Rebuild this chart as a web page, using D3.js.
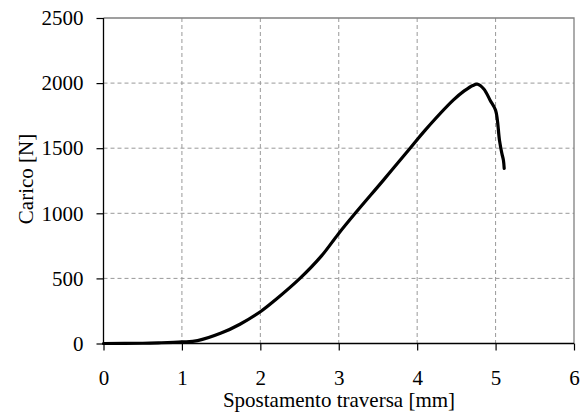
<!DOCTYPE html>
<html>
<head>
<meta charset="utf-8">
<script src="https://cdn.jsdelivr.net/npm/d3@7"></script>
<style>
  body { margin: 0; background: #fff; }
  svg text { font-family: "Liberation Serif", "Times New Roman", serif; fill: #000; }
</style>
</head>
<body>
<svg id="chart" width="584" height="414"></svg>
<script>
// spostamento traversa [mm] vs carico [N]
const displacement = [0, 0.5, 0.7, 1.0, 1.2, 1.5, 1.74, 2.0, 2.19, 2.505, 2.78, 2.99, 3.21, 3.57, 3.91, 4.10, 4.46, 4.6, 4.71, 4.77, 4.85, 4.93, 5.0, 5.05, 5.08, 5.10, 5.11];
const load = [0, 2, 5, 12, 22, 80, 148, 244, 334, 500, 673, 838, 1000, 1255, 1500, 1637, 1869, 1940, 1982, 1991, 1955, 1869, 1792, 1560, 1460, 1408, 1344];
const xTicks = [0, 1, 2, 3, 4, 5, 6];
const yTicks = [0, 500, 1000, 1500, 2000, 2500];

const svg = d3.select("#chart");
const mLeft = 103.5, mRight = 574, mTop = 18, mBottom = 343.5;

const x = d3.scaleLinear().domain([0, 6]).range([mLeft, mRight]);
const y = d3.scaleLinear().domain([0, 2500]).range([mBottom, mTop]);

// grid
svg.append("g").selectAll("line")
    .data(xTicks.slice(1, -1))
    .join("line")
    .attr("x1", d => x(d)).attr("x2", d => x(d))
    .attr("y1", mTop).attr("y2", mBottom)
    .attr("stroke", "#999").attr("stroke-dasharray", "4,3");
svg.append("g").selectAll("line")
    .data(yTicks.slice(1, -1))
    .join("line")
    .attr("x1", mLeft).attr("x2", mRight)
    .attr("y1", d => y(d)).attr("y2", d => y(d))
    .attr("stroke", "#999").attr("stroke-dasharray", "4,3");

// plot border (top/right grey)
svg.append("path")
    .attr("d", `M${mLeft},${mTop}H${mRight}V${mBottom}`)
    .attr("fill", "none").attr("stroke", "#808080").attr("stroke-width", 1.3);

// axes
const xAxis = d3.axisBottom(x).tickValues(xTicks).tickSize(7).tickPadding(20).tickFormat(d3.format("d"));
const yAxis = d3.axisLeft(y).tickValues(yTicks).tickSize(7).tickPadding(13).tickFormat(d3.format("d"));

const gx = svg.append("g").attr("transform", `translate(0,${mBottom})`).call(xAxis);
const gy = svg.append("g").attr("transform", `translate(${mLeft},0)`).call(yAxis);
[gx, gy].forEach(g => {
    g.select(".domain").attr("stroke", "#000").attr("stroke-width", 1.3);
    g.selectAll(".tick line").attr("stroke", "#000").attr("stroke-width", 1.2);
    g.selectAll(".tick text").attr("font-size", 21).attr("font-family", "Liberation Serif").attr("fill", "#000");
});
gx.select(".domain").attr("d", `M${mLeft},0H${mRight}`);
gy.select(".domain").attr("d", `M0,${mTop}V${mBottom}`);

// curve
const line = d3.line()
    .x((d, i) => x(displacement[i]))
    .y(d => y(d))
    .curve(d3.curveCatmullRom.alpha(0.5));

svg.append("path")
    .datum(load)
    .attr("d", line)
    .attr("fill", "none")
    .attr("stroke", "#000")
    .attr("stroke-width", 3.2)
    .attr("stroke-linejoin", "round")
    .attr("stroke-linecap", "round");

// titles
svg.append("text")
    .attr("x", 339).attr("y", 407)
    .attr("text-anchor", "middle")
    .attr("font-size", 21)
    .text("Spostamento traversa [mm]");

svg.append("text")
    .attr("transform", "translate(33,179) rotate(-90)")
    .attr("text-anchor", "middle")
    .attr("font-size", 21)
    .text("Carico [N]");
</script>
</body>
</html>
